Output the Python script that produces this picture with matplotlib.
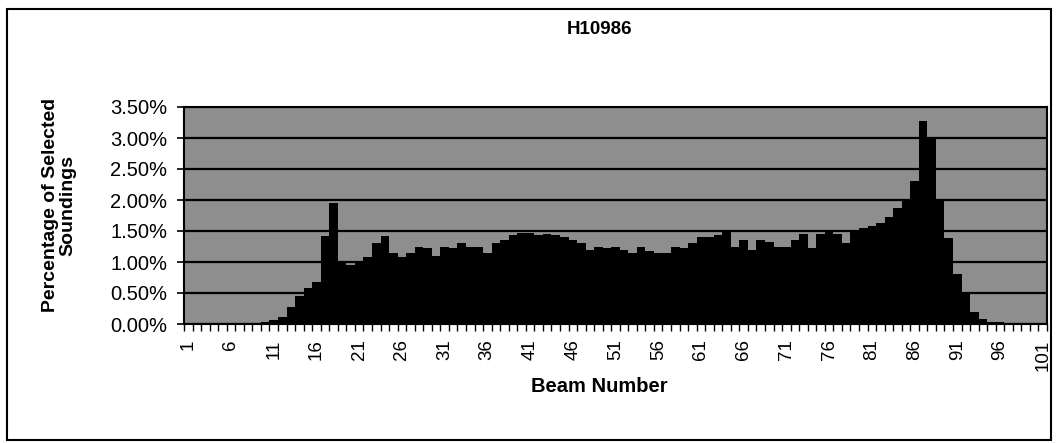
import matplotlib
matplotlib.use("Agg")
import matplotlib.pyplot as plt
from matplotlib.ticker import FuncFormatter, FixedLocator
from matplotlib.patches import Rectangle

plt.rcParams['font.family'] = ['Liberation Sans', 'DejaVu Sans']

title = "H10986"
x_label = "Beam Number"
y_label = "Percentage of Selected\nSoundings"

beams = list(range(1, 102))
# percentage of selected soundings per beam (in %)
values = [
    0.01, 0.01, 0.01, 0.01, 0.01, 0.01, 0.01, 0.02, 0.02, 0.03,   # 1-10
    0.06, 0.12, 0.28, 0.45, 0.58, 0.68, 1.42, 1.95, 1.02, 0.95,   # 11-20
    1.00, 1.08, 1.30, 1.42, 1.15, 1.08, 1.14, 1.25, 1.22, 1.10,   # 21-30
    1.25, 1.22, 1.30, 1.25, 1.25, 1.15, 1.30, 1.36, 1.43, 1.46,   # 31-40
    1.46, 1.44, 1.45, 1.43, 1.40, 1.36, 1.30, 1.20, 1.25, 1.22,   # 41-50
    1.25, 1.20, 1.15, 1.25, 1.17, 1.15, 1.15, 1.25, 1.22, 1.30,   # 51-60
    1.40, 1.40, 1.43, 1.50, 1.25, 1.35, 1.20, 1.35, 1.32, 1.25,   # 61-70
    1.25, 1.36, 1.45, 1.22, 1.45, 1.50, 1.45, 1.30, 1.50, 1.55,   # 71-80
    1.58, 1.63, 1.73, 1.87, 2.00, 2.30, 3.27, 3.02, 2.02, 1.38,   # 81-90
    0.80, 0.48, 0.20, 0.08, 0.04, 0.03, 0.02, 0.02, 0.01, 0.01,   # 91-100
    0.01,                                                         # 101
]
x_tick_labels = [str(b) for b in range(1, 102, 5)]
y_ticks = [0.0, 0.5, 1.0, 1.5, 2.0, 2.5, 3.0, 3.5]

W, H = 1057, 443
fig = plt.figure(figsize=(W / 100, H / 100), dpi=100)
fig.patch.set_facecolor("white")

left, right, top, bottom = 184, 1047, 107, 324
ax = fig.add_axes([left / W, 1 - bottom / H, (right - left) / W, (bottom - top) / H])
ax.set_facecolor("#8e8e8e")

ax.bar(beams, values, width=1.0, color="black", edgecolor="none", zorder=3)

ax.set_xlim(0.5, 101.5)
ax.set_ylim(0, 3.5)

ax.set_yticks(y_ticks)
ax.yaxis.set_major_formatter(FuncFormatter(lambda v, p: f"{v:.2f}%"))
ax.grid(axis="y", color="black", linewidth=1.6, zorder=2)
ax.set_axisbelow(False)

ax.xaxis.set_major_locator(FixedLocator(list(range(1, 102, 5))))
ax.set_xticklabels(x_tick_labels, rotation=90, fontsize=13.5)
ax.xaxis.set_minor_locator(FixedLocator([b + 0.5 for b in range(0, 102)]))
ax.tick_params(axis="x", which="major", length=0, pad=11)
ax.tick_params(axis="x", which="minor", length=5, width=1, color="black", direction="out")
ax.tick_params(axis="y", which="major", length=5, width=1.2, pad=7, labelsize=14.5)

for s in ax.spines.values():
    s.set_color("black")
    s.set_linewidth(1.5)
    s.set_zorder(4)

fig.text(599 / W, 1 - 30 / H, title, ha="center", va="center", fontsize=13.5, fontweight="bold")
fig.text(599 / W, 1 - 386 / H, x_label, ha="center", va="center", fontsize=14.5, fontweight="bold")
fig.text(59 / W, 1 - 205 / H, y_label, ha="center", va="center", rotation=90,
         fontsize=14, fontweight="bold", linespacing=1.0)

fig.patches.append(Rectangle((7 / W, 1 - 440 / H), (1051 - 7) / W, (440 - 9) / H,
                             transform=fig.transFigure, fill=False,
                             edgecolor="black", linewidth=1.5))

fig.savefig("out.png", dpi=100, facecolor="white")
